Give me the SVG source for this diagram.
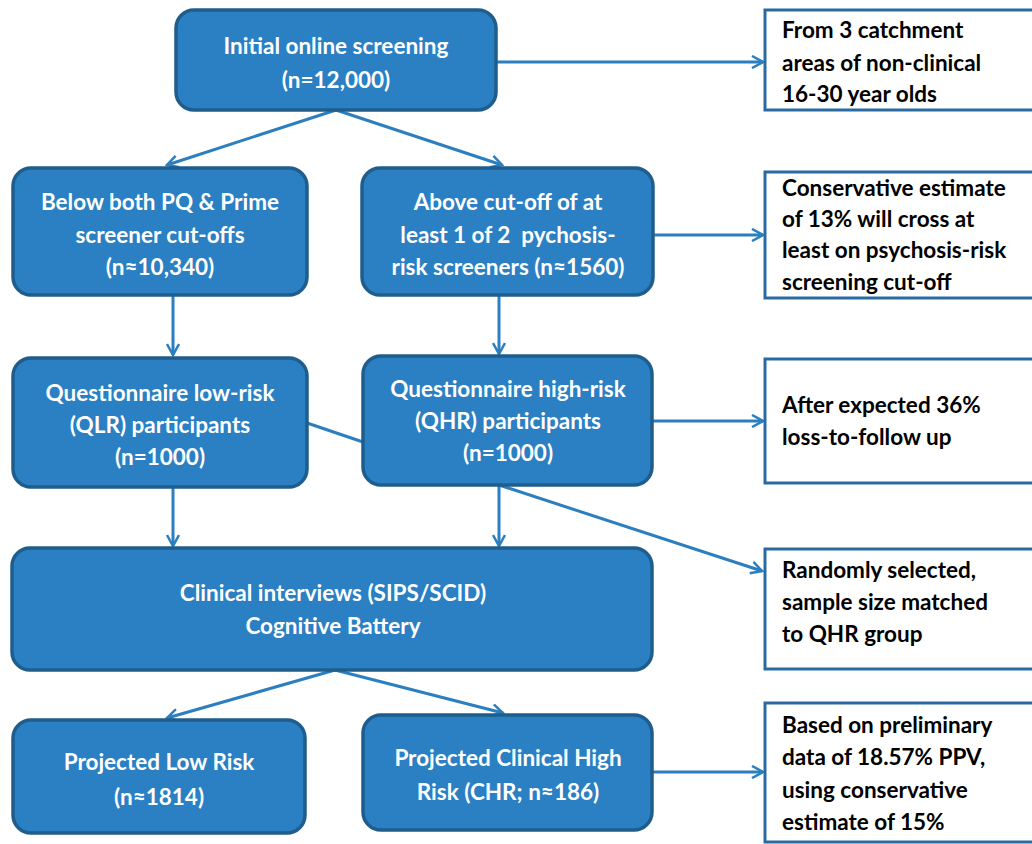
<svg xmlns="http://www.w3.org/2000/svg" width="1032" height="844" viewBox="0 0 1032 844">
<defs>
<style>
.n{fill:#2a80c3;stroke:#1f5d8c;stroke-width:3.5}
.nt{font-family:Lato,"Open Sans",sans-serif;font-weight:bold;font-size:22.5px;fill:#fff;text-anchor:middle}
.b{fill:#fff;stroke:#2a6aa2;stroke-width:3}
.bt{font-family:Lato,"Open Sans",sans-serif;font-weight:bold;font-size:22.5px;fill:#000}
.c{stroke:#2b7fc0;stroke-width:3;fill:none}
</style>
<marker id="a" viewBox="0 0 14 14" refX="12" refY="7" markerWidth="14" markerHeight="14" markerUnits="userSpaceOnUse" orient="auto">
<path d="M1,1 L12,7 L1,13" fill="none" stroke="#2b7fc0" stroke-width="2.5"/>
</marker>
</defs>
<rect width="1032" height="844" fill="#fff"/>
<g id="connectors">
<line class="c" x1="495" y1="62" x2="763" y2="62" marker-end="url(#a)"/>
<line class="c" x1="336" y1="110" x2="167" y2="165" marker-end="url(#a)"/>
<line class="c" x1="336" y1="110" x2="502" y2="165" marker-end="url(#a)"/>
<line class="c" x1="653" y1="235" x2="763" y2="235" marker-end="url(#a)"/>
<line class="c" x1="173" y1="296" x2="173" y2="355" marker-end="url(#a)"/>
<line class="c" x1="499" y1="296" x2="499" y2="354" marker-end="url(#a)"/>
<line class="c" x1="307" y1="423" x2="363" y2="442"/>
<line class="c" x1="652" y1="421" x2="763" y2="421" marker-end="url(#a)"/>
<line class="c" x1="173" y1="488" x2="173" y2="546" marker-end="url(#a)"/>
<line class="c" x1="499" y1="486" x2="499" y2="546" marker-end="url(#a)"/>
<line class="c" x1="499" y1="485" x2="762" y2="571" marker-end="url(#a)"/>
<line class="c" x1="335" y1="670" x2="167" y2="718" marker-end="url(#a)"/>
<line class="c" x1="335" y1="670" x2="503" y2="713" marker-end="url(#a)"/>
<line class="c" x1="652" y1="772" x2="763" y2="772" marker-end="url(#a)"/>
</g>
<g id="n-initial">
<rect class="n" x="176" y="10" width="320" height="100" rx="18"/>
<text class="nt" x="336" y="54">Initial online screening</text>
<text class="nt" x="336" y="88">(n=12,000)</text>
</g>
<g id="n-below">
<rect class="n" x="13" y="168" width="294" height="127" rx="18"/>
<text class="nt" x="160" y="210">Below both PQ &amp; Prime</text>
<text class="nt" x="160" y="243">screener cut-offs</text>
<text class="nt" x="160" y="275">(n≈10,340)</text>
</g>
<g id="n-above">
<rect class="n" x="362" y="168" width="291" height="127" rx="18"/>
<text class="nt" x="508" y="210">Above cut-off of at</text>
<text class="nt" x="508" y="243" xml:space="preserve">least 1 of 2  pychosis-</text>
<text class="nt" x="508" y="275">risk screeners (n≈1560)</text>
</g>
<g id="n-qlr">
<rect class="n" x="13" y="358" width="294" height="129" rx="18"/>
<text class="nt" x="160" y="401">Questionnaire low-risk</text>
<text class="nt" x="160" y="433">(QLR) participants</text>
<text class="nt" x="160" y="465">(n=1000)</text>
</g>
<g id="n-qhr">
<rect class="n" x="363" y="356" width="289" height="129" rx="18"/>
<text class="nt" x="508" y="397">Questionnaire high-risk</text>
<text class="nt" x="508" y="429">(QHR) participants</text>
<text class="nt" x="508" y="461">(n=1000)</text>
</g>
<g id="n-clinical">
<rect class="n" x="12" y="548" width="640" height="122" rx="18"/>
<text class="nt" x="333" y="601">Clinical interviews (SIPS/SCID)</text>
<text class="nt" x="333" y="634">Cognitive Battery</text>
</g>
<g id="n-low">
<rect class="n" x="13" y="720" width="292" height="113" rx="18"/>
<text class="nt" x="159" y="770">Projected Low Risk</text>
<text class="nt" x="159" y="805">(n≈1814)</text>
</g>
<g id="n-chr">
<rect class="n" x="363" y="715" width="289" height="115" rx="18"/>
<text class="nt" x="508" y="766">Projected Clinical High</text>
<text class="nt" x="508" y="800">Risk (CHR; n≈186)</text>
</g>
<g id="b-catchment">
<rect class="b" x="765" y="10" width="280" height="100"/>
<text class="bt" x="782" y="38">From 3 catchment</text>
<text class="bt" x="782" y="71">areas of non-clinical</text>
<text class="bt" x="782" y="102">16-30 year olds</text>
</g>
<g id="b-conservative">
<rect class="b" x="765" y="172" width="280" height="126"/>
<text class="bt" x="782" y="196">Conservative estimate</text>
<text class="bt" x="782" y="227">of 13% will cross at</text>
<text class="bt" x="782" y="258">least on psychosis-risk</text>
<text class="bt" x="782" y="290">screening cut-off</text>
</g>
<g id="b-loss">
<rect class="b" x="765" y="359" width="280" height="124"/>
<text class="bt" x="782" y="413">After expected 36%</text>
<text class="bt" x="782" y="445">loss-to-follow up</text>
</g>
<g id="b-random">
<rect class="b" x="765" y="549" width="280" height="120"/>
<text class="bt" x="782" y="578">Randomly selected,</text>
<text class="bt" x="782" y="610">sample size matched</text>
<text class="bt" x="782" y="642">to QHR group</text>
</g>
<g id="b-based">
<rect class="b" x="765" y="703" width="280" height="139"/>
<text class="bt" x="782" y="733">Based on preliminary</text>
<text class="bt" x="782" y="765">data of 18.57% PPV,</text>
<text class="bt" x="782" y="798">using conservative</text>
<text class="bt" x="782" y="830">estimate of 15%</text>
</g>
</svg>
